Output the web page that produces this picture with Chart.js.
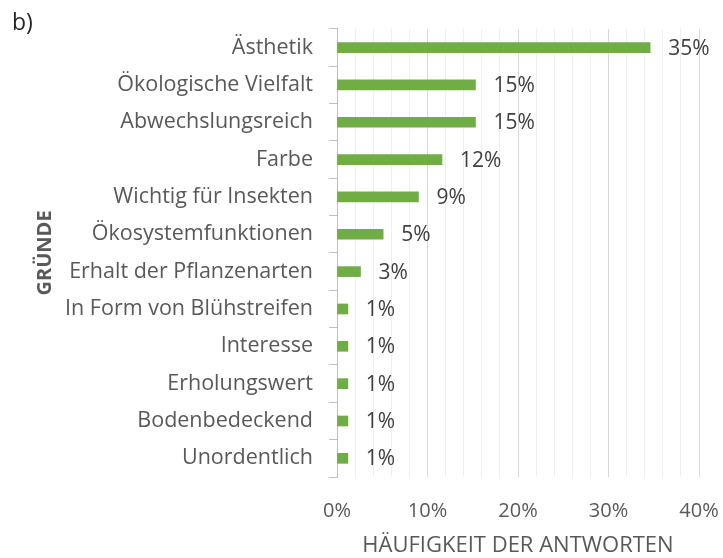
<!DOCTYPE html>
<html lang="de">
<head>
<meta charset="utf-8">
<title>Gründe</title>
<script src="https://cdn.jsdelivr.net/npm/chart.js@4"></script>
<style>
  body { margin: 0; background: #fff; }
  #wrap { position: relative; width: 723px; height: 558px; }
  #panel { position: absolute; left: 12px; top: 10px; font: 23px/1 "Open Sans", sans-serif; color: #262626; }
</style>
</head>
<body>
<div id="wrap">
  <canvas id="grafik" width="723" height="558"></canvas>
  <div id="panel">b)</div>
</div>
<script>
const gruende = [
  'Ästhetik',
  'Ökologische Vielfalt',
  'Abwechslungsreich',
  'Farbe',
  'Wichtig für Insekten',
  'Ökosystemfunktionen',
  'Erhalt der Pflanzenarten',
  'In Form von Blühstreifen',
  'Interesse',
  'Erholungswert',
  'Bodenbedeckend',
  'Unordentlich'
];
const anteile = [34.6, 15.3, 15.3, 11.6, 9.0, 5.1, 2.6, 1.2, 1.2, 1.2, 1.2, 1.2];
const achsenTicks = [0, 10, 20, 30, 40];

const schrift = '"Open Sans", sans-serif';

// Prozentwerte rechts neben den Balken
const wertLabels = {
  id: 'wertLabels',
  afterDatasetsDraw(chart) {
    const { ctx } = chart;
    const meta = chart.getDatasetMeta(0);
    ctx.save();
    ctx.font = '21px ' + schrift;
    ctx.fillStyle = '#404040';
    ctx.textBaseline = 'middle';
    meta.data.forEach((bar, i) => {
      ctx.fillText(Math.round(anteile[i]) + '%', bar.x + 18, bar.y + 1);
    });
    ctx.restore();
  }
};

new Chart(document.getElementById('grafik'), {
  type: 'bar',
  data: {
    labels: gruende,
    datasets: [{
      data: anteile,
      backgroundColor: '#70ad47',
      barThickness: 10
    }]
  },
  options: {
    indexAxis: 'y',
    responsive: false,
    animation: false,
    layout: { padding: { top: 25, left: 0, right: 24, bottom: 0 } },
    plugins: {
      legend: { display: false },
      tooltip: { enabled: false }
    },
    scales: {
      x: {
        min: 0,
        max: 40,
        afterFit: (scale) => {
          scale.height = 81;
          scale.paddingLeft = 0;
          scale.paddingRight = 0;
        },
        ticks: {
          stepSize: 2,
          padding: 22,
          color: '#595959',
          font: { family: schrift, size: 20 },
          maxRotation: 0,
          autoSkip: false,
          callback: (v) => achsenTicks.includes(v) ? v + '%' : ''
        },
        grid: {
          drawTicks: false,
          color: (c) => achsenTicks.includes(c.tick.value) ? '#d9d9d9' : '#eeeeee'
        },
        border: { display: false },
        title: {
          display: true,
          text: 'HÄUFIGKEIT DER ANTWORTEN',
          color: '#595959',
          font: { family: schrift, size: 22, lineHeight: 1 },
          padding: { top: 0, bottom: 1 }
        }
      },
      y: {
        afterFit: (scale) => { scale.width = 337; },
        ticks: {
          padding: 16,
          color: '#595959',
          font: { family: schrift, size: 21.5 }
        },
        grid: {
          offset: true,
          drawOnChartArea: false,
          tickLength: 8,
          color: '#bfbfbf'
        },
        border: { color: '#bfbfbf' },
        title: {
          display: true,
          text: 'GRÜNDE',
          color: '#595959',
          font: { family: schrift, size: 20, weight: 'bold', lineHeight: 1 },
          padding: { top: 35, bottom: 0 }
        }
      }
    }
  },
  plugins: [wertLabels]
});
</script>
</body>
</html>
